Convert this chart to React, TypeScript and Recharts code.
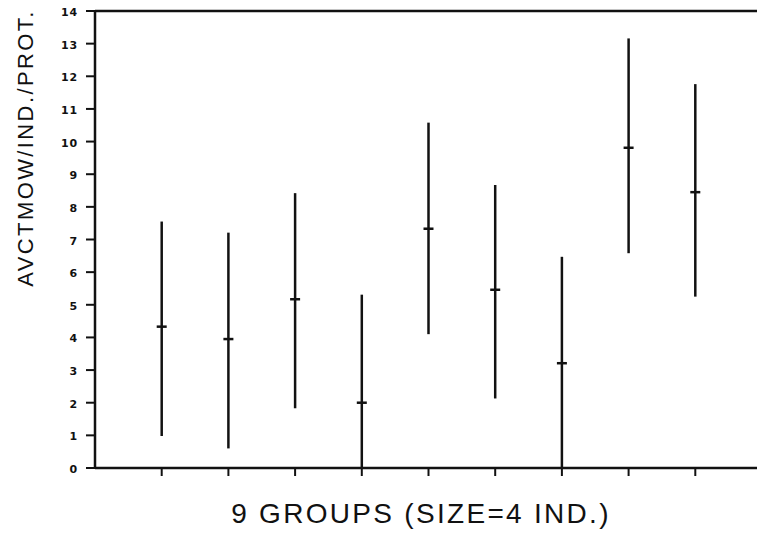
import * as React from "react";
import {
  ComposedChart,
  Scatter,
  ErrorBar,
  XAxis,
  YAxis,
  ReferenceLine,
  Label,
} from "recharts";

// group means with lower / upper ends of each range
const groups = [1, 2, 3, 4, 5, 6, 7, 8, 9];
const means = [4.33, 3.95, 5.17, 2.0, 7.33, 5.46, 3.21, 9.81, 8.45];
const lows = [0.98, 0.6, 1.83, 0, 4.1, 2.13, 0, 6.58, 5.25];
const highs = [7.55, 7.21, 8.42, 5.31, 10.58, 8.67, 6.47, 13.16, 11.76];
const yTicks = [0, 1, 2, 3, 4, 5, 6, 7, 8, 9, 10, 11, 12, 13, 14];

const xTitle = "9 GROUPS (SIZE=4 IND.)";
const yTitle = "AVCTMOW/IND./PROT.";

const INK = "#111";
const FONT = "'Liberation Sans', Arial, Helvetica, sans-serif";
const TICK_FONT = "'DejaVu Sans', Verdana, sans-serif";

const points = groups.map((g, i) => ({
  group: g,
  mean: means[i],
  range: [means[i] - lows[i], highs[i] - means[i]],
}));

// short horizontal dash marking the mean
const MeanTick = (props: any) => {
  const { cx, cy } = props;
  return (
    <line
      x1={cx - 5}
      x2={cx + 5}
      y1={cy}
      y2={cy}
      stroke={INK}
      strokeWidth={2.5}
    />
  );
};

// bold numeric labels on the value axis
const YTick = (props: any) => {
  const { x, y, payload } = props;
  return (
    <text
      x={x}
      y={y}
      dy={5}
      textAnchor="end"
      fontFamily={TICK_FONT}
      fontSize={11}
      fontWeight={700}
      letterSpacing={0.8}
      fill={INK}
    >
      {payload.value}
    </text>
  );
};

function App() {
  return (
    <div
      style={{
        position: "absolute",
        left: 0,
        top: 0,
        width: 757,
        height: 533,
        overflow: "hidden",
        background: "#fff",
      }}
    >
      <ComposedChart
        width={800}
        height={533}
        data={points}
        margin={{ top: 11, right: 38, left: 0, bottom: 0 }}
      >
        <XAxis
          type="number"
          dataKey="group"
          domain={[0, 10]}
          ticks={groups}
          tickFormatter={() => ""}
          height={65}
          axisLine={{ stroke: INK, strokeWidth: 2.5 }}
          tickLine={{ stroke: INK, strokeWidth: 2 }}
          tickSize={8}
        >
          <Label
            content={(p: any) => {
              const vb = p.viewBox;
              return (
                <text
                  x={421}
                  y={vb.y + 55}
                  textAnchor="middle"
                  fontFamily={FONT}
                  fontSize={28}
                  letterSpacing={2.3}
                  fill={INK}
                >
                  {xTitle}
                </text>
              );
            }}
          />
        </XAxis>
        <YAxis
          type="number"
          domain={[0, 14]}
          ticks={yTicks}
          interval={0}
          width={95}
          axisLine={{ stroke: INK, strokeWidth: 2.5 }}
          tickLine={{ stroke: INK, strokeWidth: 2 }}
          tickSize={9}
          tickMargin={8}
          tick={<YTick />}
        >
          <Label
            content={() => (
              <text
                transform="translate(33,148) rotate(-90)"
                textAnchor="middle"
                fontFamily={FONT}
                fontSize={22}
                letterSpacing={2.4}
                fill={INK}
              >
                {yTitle}
              </text>
            )}
          />
        </YAxis>
        <ReferenceLine
          y={14}
          stroke={INK}
          strokeWidth={2.5}
          ifOverflow="visible"
        />
        <Scatter
          dataKey="mean"
          shape={<MeanTick />}
          isAnimationActive={false}
        >
          <ErrorBar
            dataKey="range"
            direction="y"
            width={0}
            stroke={INK}
            strokeWidth={2.5}
            isAnimationActive={false}
          />
        </Scatter>
      </ComposedChart>
    </div>
  );
}

export default App;
